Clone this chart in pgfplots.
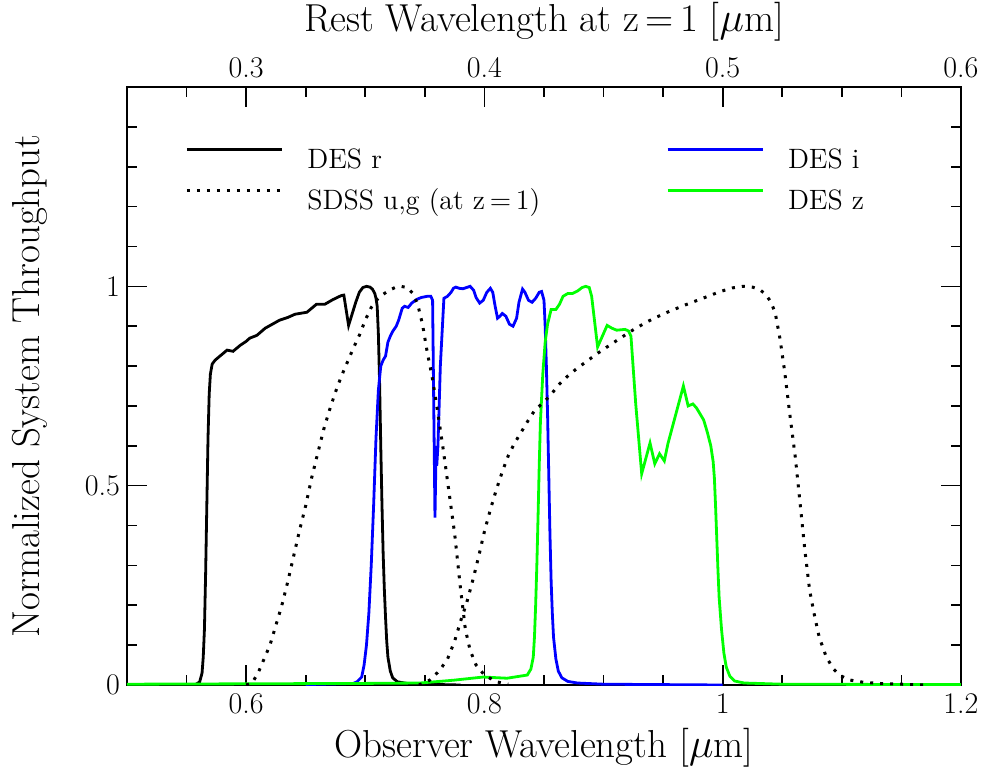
\documentclass[border=0pt]{standalone}
\usepackage{pgfplots}
\pgfplotsset{compat=1.18}
\definecolor{desblue}{RGB}{0,0,255}
\definecolor{desgreen}{RGB}{0,255,0}

\pgfplotstableread{
x y
0.500 0
0.555 0
0.558 0.002
0.561 0.008
0.563 0.03
0.564 0.07
0.565 0.14
0.566 0.28
0.567 0.45
0.568 0.62
0.569 0.73
0.570 0.78
0.5715 0.805
0.574 0.815
0.576 0.82
0.580 0.83
0.584 0.84
0.589 0.837
0.595 0.852
0.600 0.862
0.603 0.87
0.609 0.877
0.616 0.895
0.622 0.905
0.628 0.915
0.635 0.922
0.641 0.93
0.651 0.935
0.659 0.955
0.666 0.955
0.673 0.967
0.680 0.977
0.682 0.978
0.686 0.902
0.692 0.96
0.695 0.985
0.698 0.997
0.701 1.0
0.704 0.998
0.706 0.993
0.708 0.982
0.709 0.97
0.710 0.95
0.711 0.88
0.712 0.76
0.713 0.60
0.714 0.455
0.715 0.33
0.716 0.24
0.717 0.17
0.718 0.11
0.719 0.07
0.721 0.035
0.723 0.018
0.727 0.008
0.735 0.004
0.750 0.002
0.780 0
}\desr

\pgfplotstableread{
x y
0.600 0
0.605 0.005
0.610 0.03
0.615 0.065
0.620 0.10
0.625 0.15
0.630 0.20
0.635 0.26
0.640 0.325
0.645 0.39
0.650 0.45
0.655 0.52
0.660 0.58
0.665 0.64
0.670 0.69
0.675 0.735
0.680 0.775
0.685 0.81
0.690 0.845
0.695 0.877
0.700 0.915
0.705 0.947
0.710 0.967
0.715 0.98
0.720 0.99
0.725 0.997
0.730 1.0
0.735 0.997
0.740 0.982
0.744 0.955
0.748 0.905
0.752 0.835
0.756 0.775
0.760 0.70
0.765 0.60
0.770 0.49
0.775 0.38
0.780 0.24
0.784 0.14
0.788 0.087
0.793 0.05
0.800 0.025
0.810 0.008
0.820 0.002
}\sdssu

\pgfplotstableread{
x y
0.745 0
0.754 0.012
0.762 0.035
0.769 0.065
0.775 0.11
0.780 0.16
0.785 0.205
0.790 0.26
0.795 0.32
0.800 0.385
0.805 0.44
0.810 0.49
0.815 0.535
0.820 0.575
0.825 0.605
0.830 0.63
0.836 0.66
0.842 0.688
0.848 0.705
0.855 0.725
0.862 0.752
0.870 0.775
0.878 0.795
0.886 0.812
0.894 0.83
0.904 0.85
0.914 0.87
0.927 0.895
0.941 0.918
0.955 0.937
0.970 0.955
0.985 0.972
0.998 0.987
1.008 0.996
1.017 1.0
1.025 0.998
1.031 0.992
1.036 0.98
1.040 0.963
1.044 0.935
1.048 0.87
1.052 0.787
1.056 0.687
1.061 0.57
1.065 0.455
1.069 0.337
1.073 0.237
1.077 0.175
1.081 0.12
1.087 0.07
1.093 0.04
1.098 0.025
1.106 0.013
1.115 0.008
1.130 0.004
1.150 0.002
1.170 0
}\sdssg

\pgfplotstableread{
x y
0.650 0.001
0.690 0.004
0.693 0.008
0.697 0.02
0.699 0.05
0.701 0.10
0.703 0.18
0.705 0.30
0.707 0.45
0.709 0.62
0.711 0.74
0.713 0.80
0.715 0.815
0.717 0.825
0.719 0.86
0.721 0.875
0.723 0.887
0.726 0.90
0.728 0.915
0.731 0.945
0.733 0.95
0.736 0.947
0.739 0.958
0.743 0.967
0.747 0.972
0.752 0.975
0.755 0.975
0.7565 0.965
0.7585 0.42
0.7595 0.60
0.760 0.55
0.761 0.60
0.763 0.80
0.766 0.97
0.769 0.975
0.772 0.985
0.774 0.995
0.776 0.998
0.779 0.995
0.782 0.994
0.785 0.997
0.788 1.0
0.791 0.99
0.793 0.972
0.796 0.958
0.799 0.965
0.802 0.985
0.805 0.995
0.807 0.985
0.809 0.95
0.811 0.92
0.813 0.925
0.815 0.932
0.818 0.925
0.821 0.905
0.824 0.90
0.827 0.92
0.829 0.96
0.832 0.993
0.834 0.985
0.837 0.965
0.840 0.96
0.843 0.97
0.846 0.985
0.848 0.987
0.850 0.965
0.851 0.90
0.852 0.80
0.853 0.68
0.854 0.53
0.855 0.38
0.856 0.26
0.857 0.18
0.858 0.12
0.860 0.065
0.862 0.035
0.865 0.018
0.870 0.009
0.878 0.005
0.900 0.002
1.000 0
}\desi

\pgfplotstableread{
x y
0.500 0.002
0.700 0.004
0.746 0.005
0.774 0.012
0.799 0.02
0.819 0.017
0.836 0.025
0.839 0.04
0.841 0.07
0.842 0.12
0.843 0.20
0.844 0.30
0.845 0.42
0.846 0.55
0.847 0.66
0.849 0.78
0.851 0.86
0.853 0.905
0.856 0.942
0.860 0.942
0.863 0.955
0.866 0.975
0.870 0.982
0.874 0.982
0.878 0.988
0.882 0.997
0.885 1.0
0.888 0.997
0.890 0.975
0.895 0.848
0.903 0.902
0.907 0.895
0.911 0.89
0.918 0.892
0.921 0.888
0.923 0.875
0.927 0.705
0.932 0.53
0.939 0.607
0.943 0.555
0.947 0.58
0.951 0.562
0.954 0.605
0.967 0.75
0.971 0.70
0.975 0.705
0.978 0.695
0.981 0.68
0.984 0.665
0.987 0.635
0.990 0.60
0.992 0.56
0.993 0.52
0.994 0.45
0.995 0.37
0.996 0.29
0.997 0.22
0.999 0.14
1.001 0.08
1.003 0.045
1.006 0.022
1.010 0.01
1.018 0.005
1.050 0.002
1.200 0.001
}\desz

\begin{document}
\begin{tikzpicture}
\begin{axis}[
  scale only axis, width=417pt, height=299pt,
  xmin=0.5, xmax=1.2, ymin=0, ymax=1.5,
  xtick={0.6,0.8,1,1.2}, xticklabels={0.6,0.8,1,1.2},
  minor xtick={0.55,0.65,0.7,0.75,0.85,0.9,0.95,1.05,1.1,1.15},
  ytick={0,0.5,1}, yticklabels={0,0.5,1},
  minor ytick={0.1,0.2,0.3,0.4,0.6,0.7,0.8,0.9,1.1,1.2,1.3,1.4},
  xtick pos=left, ytick pos=both, yticklabel pos=left,
  tick align=inside,
  major tick length=10pt, minor tick length=5pt,
  tick style={black, line width=0.8pt},
  axis line style={line width=1.2pt},
  tick label style={font=\fontsize{15}{17}\selectfont},
  xticklabel style={yshift=-1pt},
  label style={font=\fontsize{19.5}{22}\selectfont},
  xlabel={Observer Wavelength [$\mu$m]},
  ylabel={Normalized System Throughput},
  xlabel style={at={(axis description cs:0.5,-0.105)}, anchor=center},
  ylabel style={at={(axis description cs:-0.116,0.5)}, anchor=center},
  legend style={at={(rel axis cs:0.0695,0.898)}, anchor=north west, draw=none, fill=none,
    inner sep=0pt, font=\fontsize{14}{16}\selectfont, row sep=10.5pt,
    /tikz/every odd column/.append style={column sep=12pt},
    /tikz/every even column/.append style={column sep=63pt},
    nodes={inner sep=0pt, text height=9.5pt, text depth=0pt}},
  legend columns=2, transpose legend, legend cell align=left,
  legend image code/.code={\draw[#1] (0pt,4.5pt) -- (47.5pt,4.5pt);},
]
\addplot[black, line width=1.4pt, forget plot] table {\desr};
\addplot[desblue, line width=1.4pt, forget plot] table {\desi};
\addplot[desgreen, line width=1.4pt, forget plot] table {\desz};
\addplot[black, line width=1.5pt, dash pattern=on 1.5pt off 3.5pt, forget plot] table {\sdssu};
\addplot[black, line width=1.5pt, dash pattern=on 1.5pt off 3.5pt, forget plot] table {\sdssg};
\addlegendimage{black, line width=1.4pt}
\addlegendentry{DES r}
\addlegendimage{black, line width=1.5pt, dash pattern=on 1.5pt off 3.5pt}
\addlegendentry{SDSS u,g (at z\,=\,1)}
\addlegendimage{desblue, line width=1.4pt}
\addlegendentry{DES i}
\addlegendimage{desgreen, line width=1.4pt}
\addlegendentry{DES z}
\end{axis}
\begin{axis}[
  scale only axis, width=417pt, height=299pt,
  xmin=0.25, xmax=0.6, ymin=0, ymax=1.5,
  axis x line*=top, axis y line=none,
  xtick={0.3,0.4,0.5,0.6}, xticklabels={0.3,0.4,0.5,0.6},
  minor xtick={0.275,0.325,0.35,0.375,0.425,0.45,0.475,0.525,0.55,0.575},
  tick align=inside,
  major tick length=10pt, minor tick length=5pt,
  tick style={black, line width=0.8pt},
  axis line style={line width=1.2pt},
  tick label style={font=\fontsize{15}{17}\selectfont},
  xticklabel style={yshift=1pt},
  label style={font=\fontsize{19.5}{22}\selectfont},
  xlabel={Rest Wavelength at z\,=\,1 [$\mu$m]},
  xlabel style={at={(axis description cs:0.5,1.109)}, anchor=center},
]
\end{axis}
\pgfresetboundingbox
\path[use as bounding box] (-63.5pt,-41.5pt) rectangle (427.5pt,342.5pt);
\end{tikzpicture}
\end{document}
